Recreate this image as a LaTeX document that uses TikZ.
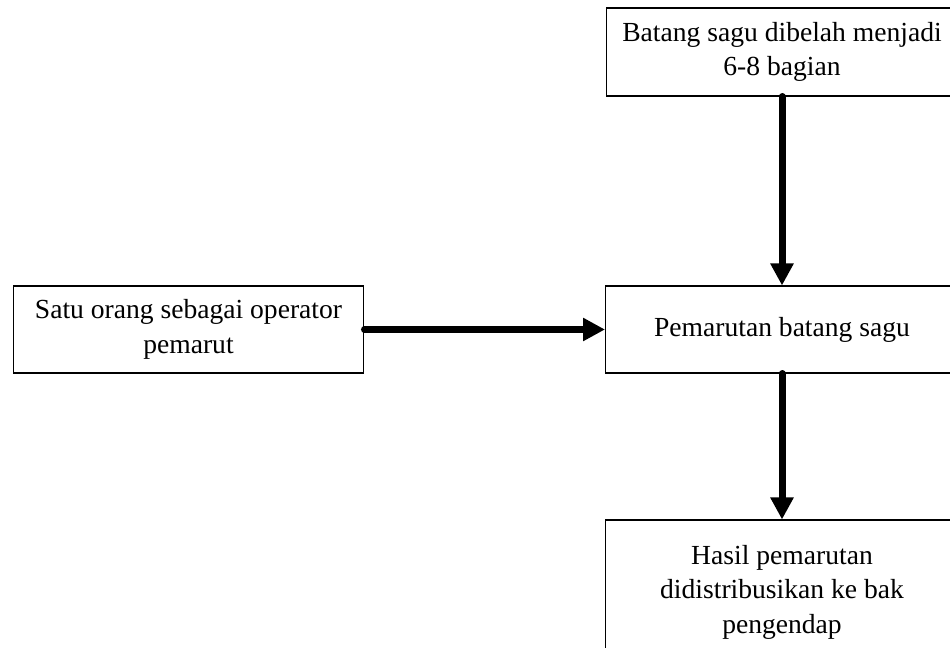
\documentclass[tikz,border=0pt]{standalone}
\usepackage{fontspec}
\setmainfont{Liberation Serif}
\usepackage{tikz}
\usetikzlibrary{arrows.meta}

\begin{document}
\begin{tikzpicture}[x=0.02cm,y=-0.02cm,
  kotak/.style={draw,line width=0.6pt,align=center,inner sep=0pt,
    font=\fontsize{15.7}{19.6}\selectfont},
  panah/.style={line width=0.14cm,line cap=round,
    -{Triangle[length=0.44cm,width=0.44cm]}}]
\useasboundingbox (0,0) rectangle (950,648);
\clip (0,0) rectangle (950,648);
\node[kotak,minimum width=7.04cm,minimum height=1.76cm] (batang) at (782,52)
  {Batang sagu dibelah menjadi\\6-8 bagian};
\node[kotak,minimum width=7.06cm,minimum height=1.74cm] (pemarutan) at (782,329.5)
  {Pemarutan batang sagu};
\node[kotak,minimum width=7.02cm,minimum height=1.74cm] (operator) at (188.5,329.5)
  {Satu orang sebagai operator\\pemarut};
\node[kotak,minimum width=7.06cm,minimum height=2.88cm] (hasil) at (782,592)
  {Hasil pemarutan\\didistribusikan ke bak\\pengendap};
\draw[panah] (batang) -- (pemarutan);
\draw[panah] (operator) -- (pemarutan);
\draw[panah] (pemarutan) -- (hasil);
\end{tikzpicture}
\end{document}
